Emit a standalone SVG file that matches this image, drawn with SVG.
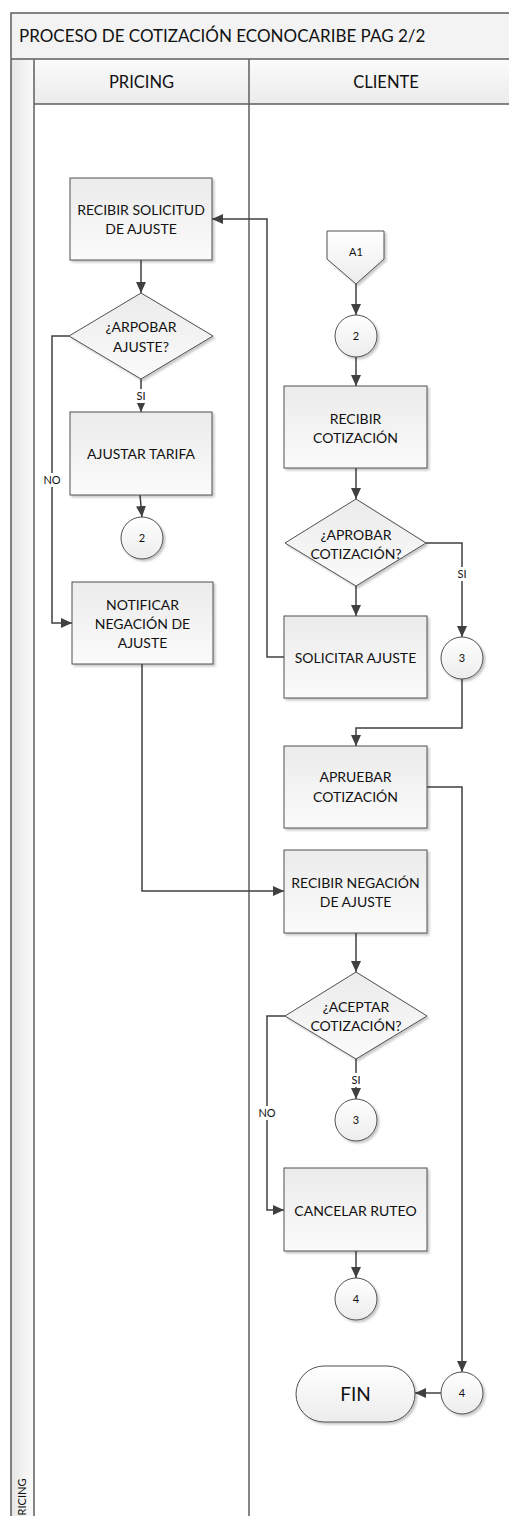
<svg xmlns="http://www.w3.org/2000/svg" width="509" height="1516" viewBox="0 0 509 1516">
  <defs>
    <linearGradient id="gBox" x1="0" y1="0" x2="0" y2="1">
      <stop offset="0" stop-color="#ebebeb"/>
      <stop offset="1" stop-color="#fbfbfb"/>
    </linearGradient>
    <linearGradient id="gRound" x1="0" y1="0" x2="0" y2="1">
      <stop offset="0" stop-color="#ffffff"/>
      <stop offset="1" stop-color="#ececec"/>
    </linearGradient>
    <linearGradient id="gHead" x1="0" y1="0" x2="0" y2="1">
      <stop offset="0" stop-color="#fbfbfb"/>
      <stop offset="1" stop-color="#ebebeb"/>
    </linearGradient>
    <linearGradient id="gStrip" x1="0" y1="0" x2="1" y2="0">
      <stop offset="0" stop-color="#e6e6e6"/>
      <stop offset="1" stop-color="#fbfbfb"/>
    </linearGradient>
    <filter id="shadow" x="-10%" y="-10%" width="130%" height="130%">
      <feDropShadow dx="2" dy="2" stdDeviation="1.2" flood-color="#000" flood-opacity="0.22"/>
    </filter>
    <marker id="arrow" markerUnits="userSpaceOnUse" markerWidth="12" markerHeight="12" refX="11" refY="5" orient="auto">
      <path d="M0,0 L11,5 L0,10 Z" fill="#404040"/>
    </marker>
  </defs>
  <style>
    text { font-family: Lato, "Liberation Sans", sans-serif; fill: #111; }
    .lbl { font-size: 14px; text-anchor: middle; }
    .num { font-size: 11px; text-anchor: middle; }
    .small { font-size: 11px; text-anchor: middle; }
    .box { fill: url(#gBox); stroke: #505050; stroke-width: 1; filter: url(#shadow); }
    .rnd { fill: url(#gRound); stroke: #505050; stroke-width: 1; filter: url(#shadow); }
    .frame { stroke: #5e5e5e; stroke-width: 1.5; fill: none; }
    .conn path { fill: none; stroke: #404040; stroke-width: 1.5; }
    .tagbg { fill: #ffffff; }
  </style>

  <!-- swimlane frame -->
  <g id="pool">
    <rect x="11" y="13" width="520" height="46" fill="#f3f3f3"/>
    <rect x="11" y="59" width="23" height="1470" fill="url(#gStrip)"/>
    <rect x="34" y="59" width="497" height="45" fill="url(#gHead)"/>
    <rect x="34" y="104" width="497" height="1425" fill="#ffffff"/>
    <rect class="frame" x="11" y="13" width="520" height="1520"/>
    <line class="frame" x1="11" y1="59" x2="531" y2="59"/>
    <line class="frame" x1="34" y1="104" x2="531" y2="104"/>
    <line class="frame" x1="34" y1="59" x2="34" y2="1533"/>
    <line class="frame" x1="249" y1="59" x2="249" y2="1533"/>
    <text x="19" y="42" font-size="17">PROCESO DE COTIZACIÓN ECONOCARIBE PAG 2/2</text>
    <text x="141.5" y="88" font-size="16.5" text-anchor="middle">PRICING</text>
    <text x="386" y="88" font-size="16.5" text-anchor="middle">CLIENTE</text>
    <text transform="translate(26,1522) rotate(-90)" font-size="11">PRICING</text>
  </g>

  <!-- connectors -->
  <g id="connectors" class="conn">
    <path d="M141,260 V293" marker-end="url(#arrow)"/>
    <path d="M141,379 V412" marker-end="url(#arrow)"/>
    <path d="M69,336 H52 V623 H72" marker-end="url(#arrow)"/>
    <path d="M140,495 L142,517" marker-end="url(#arrow)"/>
    <path d="M142,664 V891 H284" marker-end="url(#arrow)"/>
    <path d="M356,284 V315" marker-end="url(#arrow)"/>
    <path d="M356,357 V386" marker-end="url(#arrow)"/>
    <path d="M356,468 V499" marker-end="url(#arrow)"/>
    <path d="M356,586 V616" marker-end="url(#arrow)"/>
    <path d="M426,543 H462 V637" marker-end="url(#arrow)"/>
    <path d="M284,657 H267 V219 H212" marker-end="url(#arrow)"/>
    <path d="M462,679 V728 H356 V746" marker-end="url(#arrow)"/>
    <path d="M427,787 H462 V1372" marker-end="url(#arrow)"/>
    <path d="M356,933 V972" marker-end="url(#arrow)"/>
    <path d="M356,1059 V1099" marker-end="url(#arrow)"/>
    <path d="M285,1016 H267 V1210 H284" marker-end="url(#arrow)"/>
    <path d="M356,1251 V1278" marker-end="url(#arrow)"/>
    <path d="M441,1393 H415" marker-end="url(#arrow)"/>
    <!-- branch labels -->
    <rect class="tagbg" x="134" y="389" width="14" height="14"/>
    <text class="small" x="141" y="400">SI</text>
    <rect class="tagbg" x="42" y="473" width="20" height="14"/>
    <text class="small" x="52" y="484">NO</text>
    <rect class="tagbg" x="455" y="567" width="14" height="14"/>
    <text class="small" x="462" y="578">SI</text>
    <rect class="tagbg" x="349" y="1073" width="14" height="14"/>
    <text class="small" x="356" y="1084">SI</text>
    <rect class="tagbg" x="257" y="1106" width="20" height="14"/>
    <text class="small" x="267" y="1117">NO</text>
  </g>

  <!-- PRICING lane -->
  <g id="recibir-solicitud">
    <rect class="box" x="70" y="178" width="142" height="82"/>
    <text class="lbl" x="141" y="215">RECIBIR SOLICITUD</text>
    <text class="lbl" x="141" y="234">DE AJUSTE</text>
  </g>
  <g id="aprobar-ajuste">
    <polygon class="box" points="141,293 213,336 141,379 69,336"/>
    <text class="lbl" x="141" y="332">¿ARPOBAR</text>
    <text class="lbl" x="141" y="352">AJUSTE?</text>
  </g>
  <g id="ajustar-tarifa">
    <rect class="box" x="70" y="412" width="142" height="83"/>
    <text class="lbl" x="141" y="459">AJUSTAR TARIFA</text>
  </g>
  <g id="conector-2a">
    <circle class="rnd" cx="142" cy="538" r="21"/>
    <text class="num" x="142" y="542">2</text>
  </g>
  <g id="notificar-negacion">
    <rect class="box" x="72" y="582" width="141" height="82"/>
    <text class="lbl" x="142.5" y="610">NOTIFICAR</text>
    <text class="lbl" x="142.5" y="629">NEGACIÓN DE</text>
    <text class="lbl" x="142.5" y="648">AJUSTE</text>
  </g>

  <!-- CLIENTE lane -->
  <g id="pagina-a1">
    <polygon class="rnd" points="327,231 384,231 384,259 356,284 327,259"/>
    <text class="num" x="356" y="256">A1</text>
  </g>
  <g id="conector-2b">
    <circle class="rnd" cx="356" cy="336" r="21"/>
    <text class="num" x="356" y="340">2</text>
  </g>
  <g id="recibir-cotizacion">
    <rect class="box" x="284" y="386" width="143" height="82"/>
    <text class="lbl" x="355.5" y="424">RECIBIR</text>
    <text class="lbl" x="355.5" y="443">COTIZACIÓN</text>
  </g>
  <g id="aprobar-cotizacion">
    <polygon class="box" points="356,499 426,543 356,586 285,543"/>
    <text class="lbl" x="356" y="540">¿APROBAR</text>
    <text class="lbl" x="356" y="559">COTIZACIÓN?</text>
  </g>
  <g id="solicitar-ajuste">
    <rect class="box" x="284" y="616" width="143" height="82"/>
    <text class="lbl" x="355.5" y="663">SOLICITAR AJUSTE</text>
  </g>
  <g id="conector-3a">
    <circle class="rnd" cx="462" cy="658" r="21"/>
    <text class="num" x="462" y="662">3</text>
  </g>
  <g id="aprobar">
    <rect class="box" x="284" y="746" width="143" height="82"/>
    <text class="lbl" x="355.5" y="782">APRUEBAR</text>
    <text class="lbl" x="355.5" y="802">COTIZACIÓN</text>
  </g>
  <g id="recibir-negacion">
    <rect class="box" x="284" y="850" width="143" height="83"/>
    <text class="lbl" x="355.5" y="888">RECIBIR NEGACIÓN</text>
    <text class="lbl" x="355.5" y="907">DE AJUSTE</text>
  </g>
  <g id="aceptar-cotizacion">
    <polygon class="box" points="356,972 427,1016 356,1059 285,1016"/>
    <text class="lbl" x="356" y="1012">¿ACEPTAR</text>
    <text class="lbl" x="356" y="1031">COTIZACIÓN?</text>
  </g>
  <g id="conector-3b">
    <circle class="rnd" cx="356" cy="1120" r="21"/>
    <text class="num" x="356" y="1124">3</text>
  </g>
  <g id="cancelar-ruteo">
    <rect class="box" x="284" y="1168" width="143" height="83"/>
    <text class="lbl" x="355.5" y="1216">CANCELAR RUTEO</text>
  </g>
  <g id="conector-4a">
    <circle class="rnd" cx="356" cy="1299" r="21"/>
    <text class="num" x="356" y="1303">4</text>
  </g>
  <g id="fin">
    <rect class="rnd" x="296" y="1366" width="119" height="56" rx="28" ry="28"/>
    <text x="355.5" y="1401" font-size="19" text-anchor="middle">FIN</text>
  </g>
  <g id="conector-4b">
    <circle class="rnd" cx="462" cy="1393" r="21"/>
    <text class="num" x="462" y="1397">4</text>
  </g>
</svg>
